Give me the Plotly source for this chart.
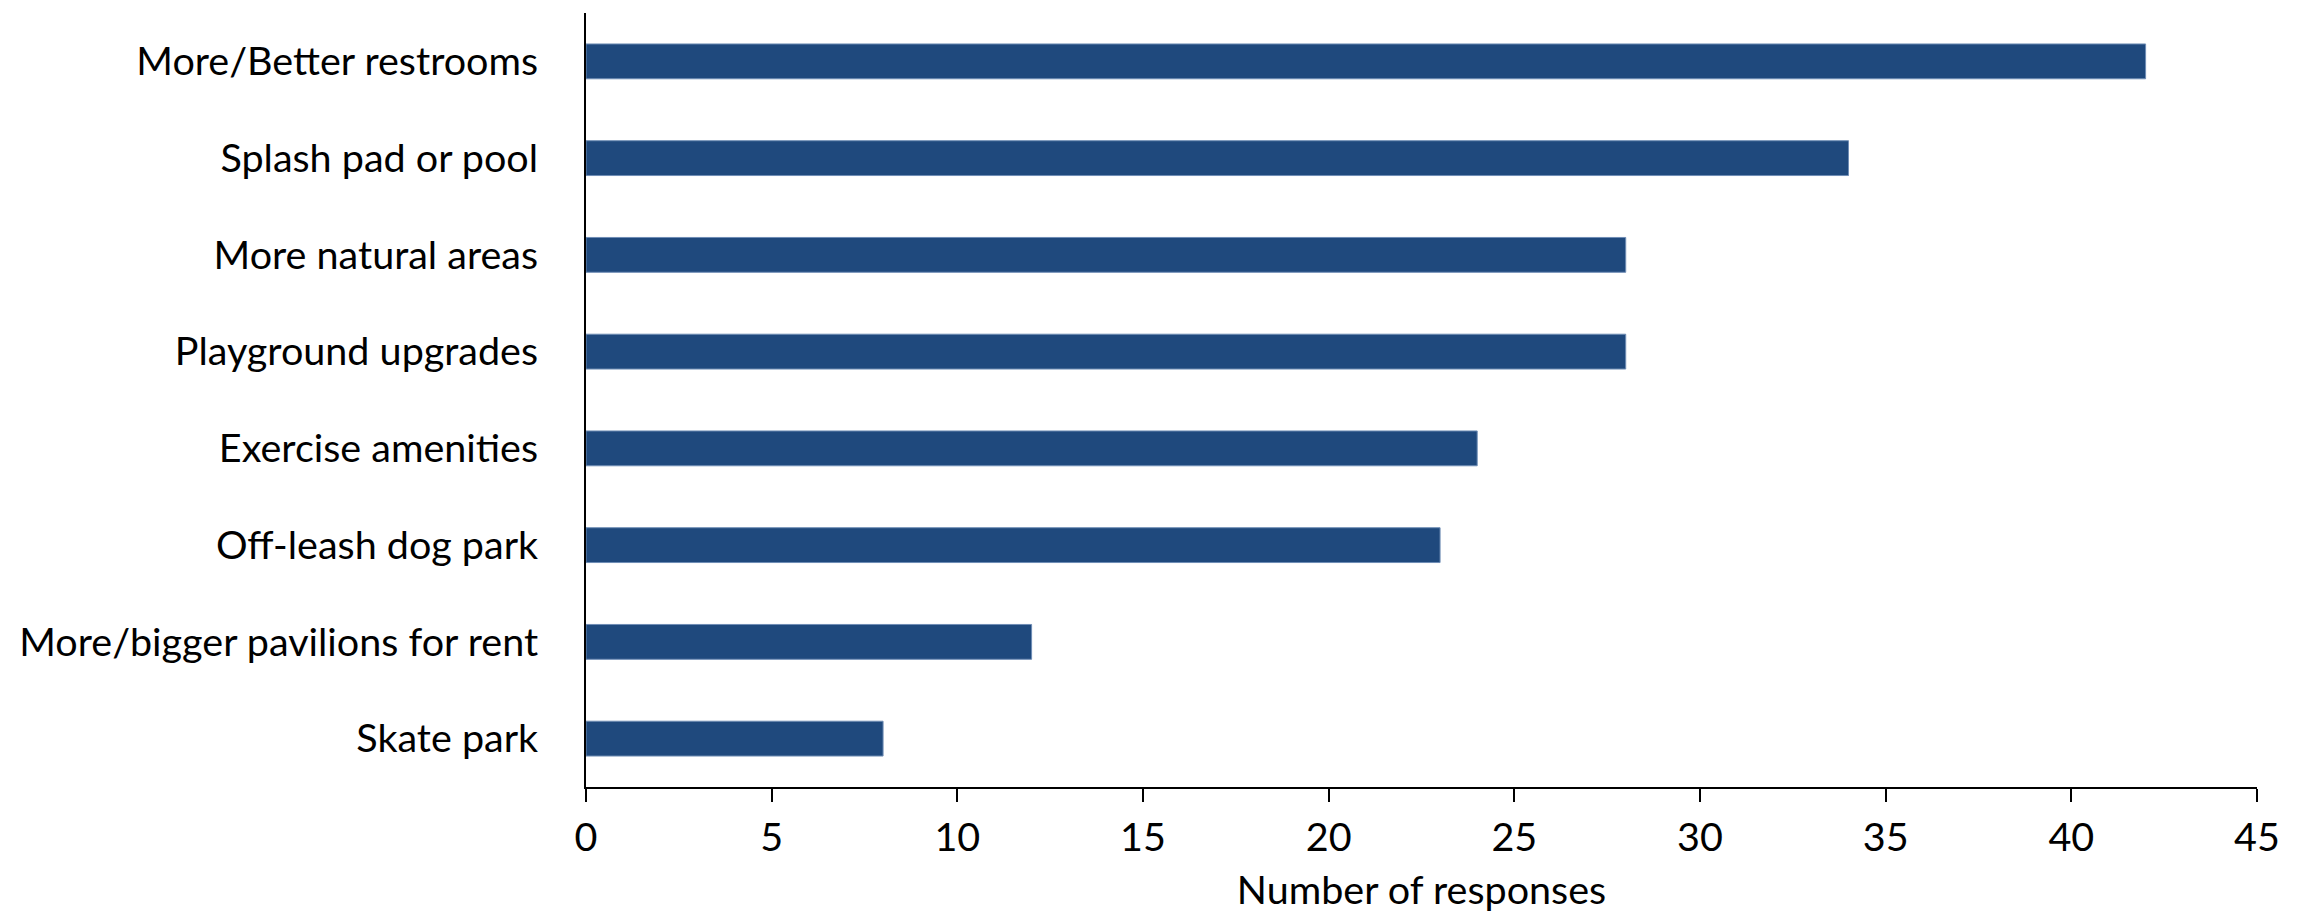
import plotly.graph_objects as go

categories = ["More/Better restrooms", "Splash pad or pool", "More natural areas",
              "Playground upgrades", "Exercise amenities", "Off-leash dog park",
              "More/bigger pavilions for rent", "Skate park"]
responses = [42, 34, 28, 28, 24, 23, 12, 8]
x_ticks = [0, 5, 10, 15, 20, 25, 30, 35, 40, 45]

FONT = "Lato"
FS = 39.5

fig = go.Figure(go.Bar(
    y=categories, x=responses, orientation="h",
    marker=dict(color="#1F497D", line=dict(color="#6f8db5", width=1)),
    width=0.36,
))

fig.update_layout(
    width=2300, height=916,
    margin=dict(l=578, r=51, t=5, b=137, autoexpand=False),
    paper_bgcolor="white", plot_bgcolor="rgba(0,0,0,0)",
    font=dict(family=FONT, size=FS, color="black"),
    showlegend=False,
)
fig.update_xaxes(
    range=[0, 45], tickvals=x_ticks, ticktext=[str(v) for v in x_ticks],
    showline=True, linecolor="black", linewidth=2,
    ticks="outside", ticklen=13, tickwidth=2, tickcolor="black",
    showgrid=False, zeroline=False,
    tickfont=dict(size=FS), ticklabelstandoff=2,
    title=dict(text="Number of responses", font=dict(size=FS), standoff=18),
)
fig.update_yaxes(
    categoryorder="array", categoryarray=categories[::-1],
    range=[-0.5, 7.5],
    showline=True, linecolor="black", linewidth=2,
    ticks="", showgrid=False, zeroline=False,
    tickfont=dict(size=FS), ticklabelstandoff=38,
)

fig.write_html("out.html")
